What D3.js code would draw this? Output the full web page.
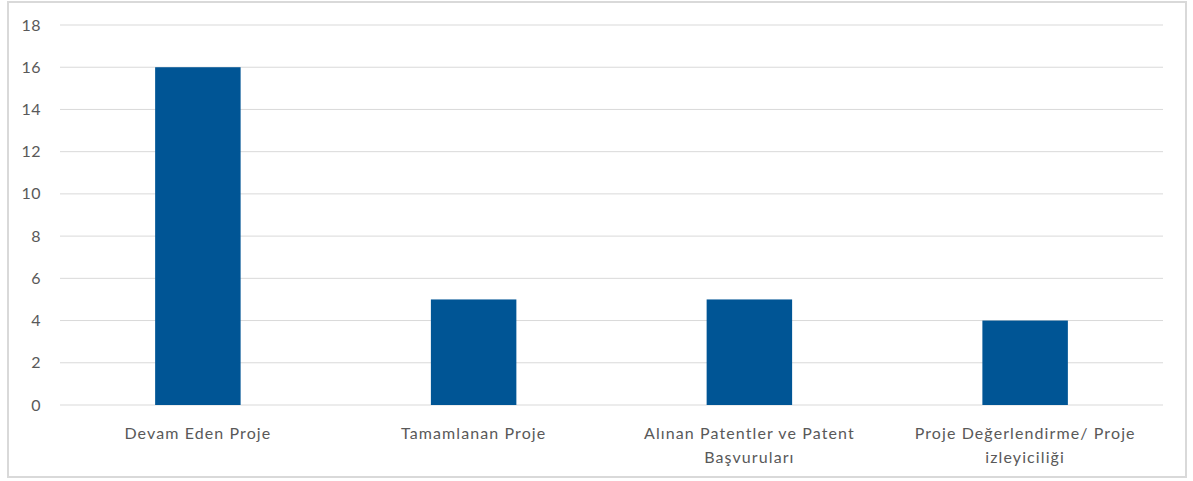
<!DOCTYPE html>
<html>
<head>
<meta charset="utf-8">
<script src="https://cdn.jsdelivr.net/npm/d3@7"></script>
<style>
  body { margin: 0; background: #fff; }
  text { font-family: Lato, "Open Sans", sans-serif; fill: #595959; }
</style>
</head>
<body>
<svg width="1193" height="481"></svg>
<script>
// data
const categories = ["Devam Eden Proje", "Tamamlanan Proje", "Alınan Patentler ve Patent|Başvuruları", "Proje Değerlendirme/ Proje|izleyiciliği"];
const values = [16, 5, 5, 4];
const yTicks = [0, 2, 4, 6, 8, 10, 12, 14, 16, 18];

const svg = d3.select("svg");

// outer frame
svg.append("rect")
  .attr("x", 8).attr("y", 2)
  .attr("width", 1178).attr("height", 475)
  .attr("fill", "#fff")
  .attr("stroke", "#d9d9d9")
  .attr("stroke-width", 2);

const plotLeft = 60, plotRight = 1163, plotTop = 25, plotBottom = 405;

const x = d3.scaleBand()
  .domain(categories)
  .range([plotLeft, plotRight])
  .paddingInner(0.69)
  .paddingOuter(0.345);

const y = d3.scaleLinear().domain([0, 18]).range([plotBottom, plotTop]);

// gridlines
svg.append("g")
  .selectAll("line")
  .data(yTicks)
  .join("line")
  .attr("x1", plotLeft).attr("x2", plotRight)
  .attr("y1", d => y(d)).attr("y2", d => y(d))
  .attr("stroke", "#d9d9d9")
  .attr("stroke-width", 1);

// y tick labels
svg.append("g")
  .selectAll("text")
  .data(yTicks)
  .join("text")
  .attr("x", 41)
  .attr("y", d => y(d))
  .attr("dy", "0.35em")
  .attr("text-anchor", "end")
  .attr("font-size", 16)
  .attr("letter-spacing", 0.5)
  .text(d => d);

// bars
svg.append("g")
  .selectAll("rect")
  .data(values)
  .join("rect")
  .attr("x", (d, i) => x(categories[i]))
  .attr("y", d => y(d))
  .attr("width", x.bandwidth())
  .attr("height", d => y(0) - y(d))
  .attr("fill", "#005595");

// category labels, split on |
const lab = svg.append("g")
  .selectAll("text")
  .data(categories)
  .join("text")
  .attr("x", d => x(d) + x.bandwidth() / 2)
  .attr("y", 439)
  .attr("text-anchor", "middle")
  .attr("font-size", 16)
  .attr("letter-spacing", 1.1);

lab.selectAll("tspan")
  .data(d => d.split("|"))
  .join("tspan")
  .attr("x", function() { return d3.select(this.parentNode).attr("x"); })
  .attr("dy", (d, i) => i === 0 ? 0 : 24)
  .text(d => d);
</script>
</body>
</html>
